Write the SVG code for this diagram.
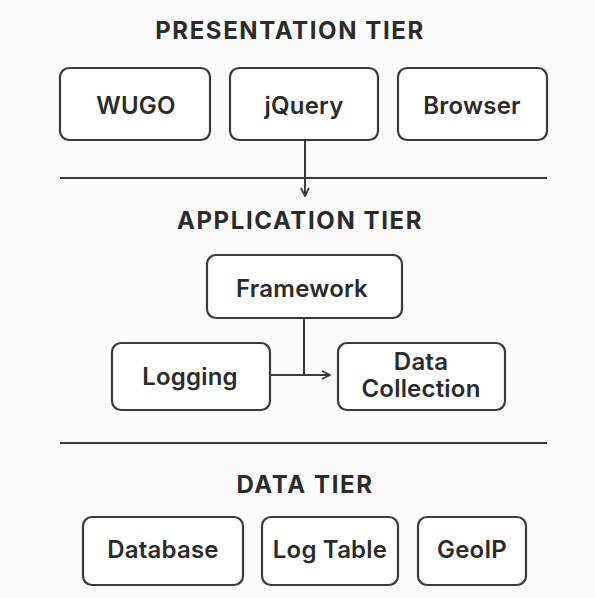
<svg xmlns="http://www.w3.org/2000/svg" width="595" height="598" viewBox="0 0 595 598">
<style>
.bg{fill:#fbfbfb}
.box{fill:#ffffff;stroke:#3a3a3a;stroke-width:2.2}
.lbl{font-family:Inter,"Noto Sans","Liberation Sans",sans-serif;font-weight:600;font-size:24px;letter-spacing:0.2px;fill:#2b2b2b;text-anchor:middle}
.ttl{font-family:Inter,"Noto Sans","Liberation Sans",sans-serif;font-weight:700;font-size:24px;letter-spacing:1.6px;fill:#2b2b2b;text-anchor:middle}
.sep{stroke:#3a3a3a;stroke-width:2.2;fill:none}
.con{stroke:#3a3a3a;stroke-width:2;fill:none}
</style>
<defs>
<marker id="arr" viewBox="0 0 10 10" refX="9" refY="5" markerWidth="10" markerHeight="10" markerUnits="userSpaceOnUse" orient="auto">
<path d="M1,1 L9,5 L1,9" fill="none" stroke="#3a3a3a" stroke-width="1.8"/>
</marker>
</defs>
<rect class="bg" x="0" y="0" width="595" height="598"/>
<text class="ttl" x="290" y="39">PRESENTATION TIER</text>
<text class="ttl" x="300" y="229">APPLICATION TIER</text>
<text class="ttl" x="305" y="493">DATA TIER</text>
<line class="sep" x1="60" y1="178" x2="547" y2="178"/>
<line class="sep" x1="60" y1="443" x2="547" y2="443"/>
<g id="wugo"><rect class="box" x="60" y="68" width="150" height="72" rx="9"/><text class="lbl" x="136" y="114">WUGO</text></g>
<g id="jquery"><rect class="box" x="230" y="68" width="148" height="72" rx="9"/><text class="lbl" x="304" y="114">jQuery</text></g>
<g id="browser"><rect class="box" x="398" y="68" width="149" height="72" rx="9"/><text class="lbl" x="472" y="114">Browser</text></g>
<g id="framework"><rect class="box" x="207" y="255" width="195" height="63" rx="9"/><text class="lbl" x="302" y="297">Framework</text></g>
<g id="logging"><rect class="box" x="112" y="343" width="158" height="67" rx="9"/><text class="lbl" x="190" y="385">Logging</text></g>
<g id="datacollection"><rect class="box" x="338" y="343" width="167" height="67" rx="9"/><text class="lbl" x="421" y="370">Data</text><text class="lbl" x="421" y="397">Collection</text></g>
<g id="database"><rect class="box" x="83" y="517" width="160" height="68" rx="9"/><text class="lbl" x="163" y="558">Database</text></g>
<g id="logtable"><rect class="box" x="262" y="517" width="136" height="68" rx="9"/><text class="lbl" x="330" y="558">Log Table</text></g>
<g id="geoip"><rect class="box" x="418" y="517" width="108" height="68" rx="9"/><text class="lbl" x="472" y="558">GeoIP</text></g>
<g id="connectors">
<line class="con" x1="305" y1="140" x2="305" y2="196" marker-end="url(#arr)"/>
<line class="con" x1="304" y1="318" x2="304" y2="375"/>
<line class="con" x1="270" y1="375" x2="330" y2="375" marker-end="url(#arr)"/>
</g>
</svg>
